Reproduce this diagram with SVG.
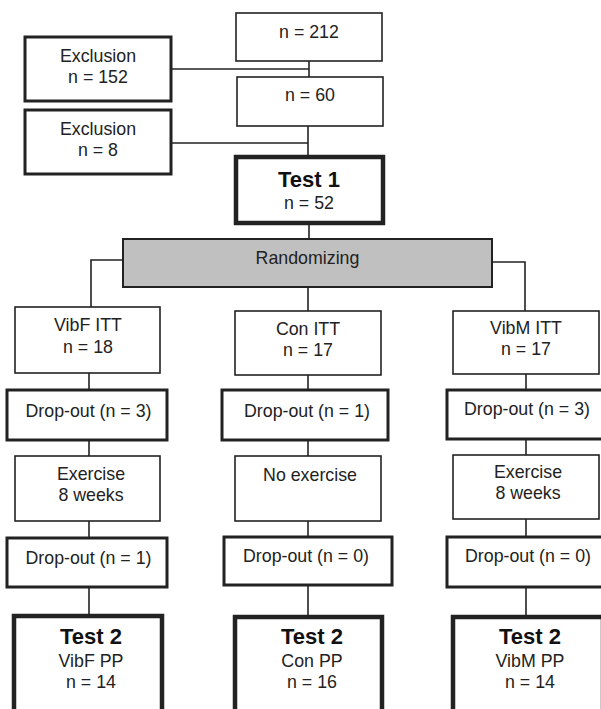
<svg xmlns="http://www.w3.org/2000/svg" width="601" height="709" viewBox="0 0 601 709">
<style>
.b{fill:#fff;stroke:#222;}
.thin{stroke-width:1.6;}
.mid{stroke-width:3;}
.thick{stroke-width:4.5;}
.r{fill:#c0c0c0;stroke:#222;stroke-width:2;}
text{font-family:"Liberation Sans",Arial,sans-serif;font-size:17.8px;fill:#222;text-anchor:middle;}
.bold{font-weight:bold;font-size:22px;fill:#111;}
.c{fill:none;stroke:#222;stroke-width:1.6;}
</style>
<rect width="601" height="709" fill="#fff"/>
<g id="connectors">
<polyline class="c" points="171,69 309,69"/>
<line class="c" x1="309" y1="61" x2="309" y2="77"/>
<polyline class="c" points="171,143 308,143"/>
<line class="c" x1="308" y1="126" x2="308" y2="157"/>
<line class="c" x1="309" y1="223" x2="309" y2="239"/>
<polyline class="c" points="123,260 91,260 91,307"/>
<line class="c" x1="308" y1="287" x2="308" y2="311"/>
<polyline class="c" points="492,262 525,262 525,311"/>
<line class="c" x1="89" y1="373" x2="89" y2="390"/>
<line class="c" x1="89" y1="440" x2="89" y2="456"/>
<line class="c" x1="89" y1="521" x2="89" y2="538"/>
<line class="c" x1="89" y1="587" x2="89" y2="616"/>
<line class="c" x1="308" y1="375" x2="308" y2="390"/>
<line class="c" x1="308" y1="440" x2="308" y2="456"/>
<line class="c" x1="308" y1="521" x2="308" y2="537"/>
<line class="c" x1="308" y1="585" x2="308" y2="617"/>
<line class="c" x1="526" y1="374" x2="526" y2="390"/>
<line class="c" x1="526" y1="439" x2="526" y2="455"/>
<line class="c" x1="526" y1="519" x2="526" y2="537"/>
<line class="c" x1="526" y1="587" x2="526" y2="617"/>
</g>
<g id="n212"><rect class="b thin" x="236" y="13" width="146" height="48"/><text x="309" y="38">n = 212</text></g>
<g id="excl152"><rect class="b mid" x="25" y="37" width="146" height="64"/><text x="98" y="62">Exclusion</text><text x="98" y="83">n = 152</text></g>
<g id="n60"><rect class="b thin" x="237" y="77" width="146" height="49"/><text x="310" y="101">n = 60</text></g>
<g id="excl8"><rect class="b mid" x="25" y="110" width="146" height="64"/><text x="98" y="135">Exclusion</text><text x="98" y="156">n = 8</text></g>
<g id="test1"><rect class="b thick" x="236" y="157" width="147" height="66"/><text class="bold" x="309" y="187">Test 1</text><text x="309" y="209">n = 52</text></g>
<g id="randomizing"><rect class="r" x="123" y="239" width="369" height="48"/><text x="307.5" y="264">Randomizing</text></g>
<g id="vibf-itt"><rect class="b thin" x="15" y="307" width="145" height="66"/><text x="88" y="331">VibF ITT</text><text x="88" y="353">n = 18</text></g>
<g id="con-itt"><rect class="b thin" x="235" y="311" width="146" height="64"/><text x="308" y="335">Con ITT</text><text x="308" y="356">n = 17</text></g>
<g id="vibm-itt"><rect class="b thin" x="453" y="311" width="146" height="63"/><text x="526" y="334">VibM ITT</text><text x="526" y="355">n = 17</text></g>
<g id="drop-f1"><rect class="b mid" x="7" y="390" width="160" height="50"/><text x="88.5" y="417">Drop-out (n = 3)</text></g>
<g id="drop-c1"><rect class="b mid" x="222" y="390" width="166" height="50"/><text x="307" y="417">Drop-out (n = 1)</text></g>
<g id="drop-m1"><rect class="b mid" x="447" y="390" width="156" height="49"/><text x="527" y="415">Drop-out (n = 3)</text></g>
<g id="ex-f"><rect class="b thin" x="15" y="456" width="145" height="65"/><text x="91" y="480">Exercise</text><text x="91" y="501">8 weeks</text></g>
<g id="noex-c"><rect class="b thin" x="235" y="456" width="146" height="65"/><text x="310" y="481">No exercise</text></g>
<g id="ex-m"><rect class="b thin" x="453" y="455" width="146" height="64"/><text x="528" y="478">Exercise</text><text x="528" y="499">8 weeks</text></g>
<g id="drop-f2"><rect class="b mid" x="7" y="538" width="160" height="49"/><text x="88.5" y="564">Drop-out (n = 1)</text></g>
<g id="drop-c2"><rect class="b mid" x="224" y="537" width="168" height="48"/><text x="306" y="562">Drop-out (n = 0)</text></g>
<g id="drop-m2"><rect class="b mid" x="447" y="537" width="156" height="50"/><text x="528" y="562">Drop-out (n = 0)</text></g>
<g id="test2-f"><rect class="b thick" x="14" y="616" width="148" height="100"/><text class="bold" x="91" y="644">Test 2</text><text x="91" y="667">VibF PP</text><text x="91" y="688">n = 14</text></g>
<g id="test2-c"><rect class="b thick" x="235" y="617" width="147" height="100"/><text class="bold" x="312" y="644">Test 2</text><text x="312" y="667">Con PP</text><text x="312" y="688">n = 16</text></g>
<g id="test2-m"><rect class="b thick" x="453" y="617" width="150" height="100"/><text class="bold" x="530" y="644">Test 2</text><text x="530" y="667">VibM PP</text><text x="530" y="688">n = 14</text></g>
</svg>
